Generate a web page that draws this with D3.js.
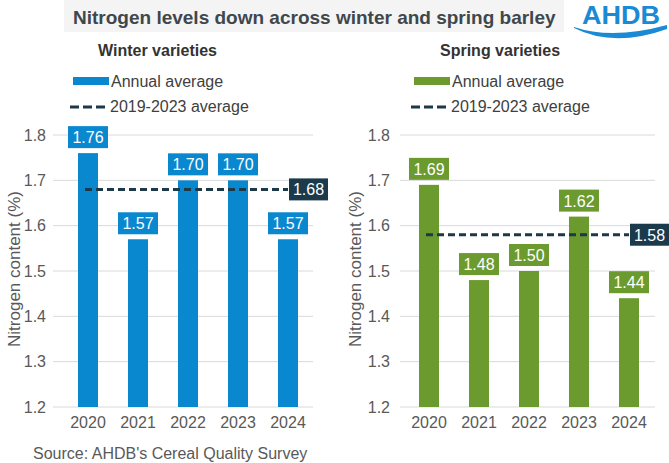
<!DOCTYPE html>
<html>
<head>
<meta charset="utf-8">
<script src="https://cdn.jsdelivr.net/npm/d3@7"></script>
<style>
  body { margin: 0; background: #fff; }
  svg { display: block; font-family: "Liberation Sans", Arial, sans-serif; }
</style>
</head>
<body>
<div id="chart"></div>
<script>
// data
var years = ["2020", "2021", "2022", "2023", "2024"];
var winterValues = [1.76, 1.57, 1.70, 1.70, 1.57];
var springValues = [1.69, 1.48, 1.50, 1.62, 1.44];
var winterAvg = 1.68;
var springAvg = 1.58;
var yTicks = [1.2, 1.3, 1.4, 1.5, 1.6, 1.7, 1.8];

var W = 669, H = 463;
var svg = d3.select("#chart").append("svg")
    .attr("width", W)
    .attr("height", H);

// title band
svg.append("rect").attr("x", 64).attr("y", 0).attr("width", 500).attr("height", 32).attr("fill", "#f4f4f4");
svg.append("text")
    .attr("x", 73).attr("y", 24)
    .attr("font-size", 19).attr("font-weight", "bold").attr("fill", "#3f474c")
    .text("Nitrogen levels down across winter and spring barley");

// logo
svg.append("text")
    .attr("x", 582).attr("y", 24)
    .attr("font-size", 25).attr("font-weight", "bold").attr("fill", "#1a8ad4")
    .attr("textLength", 78).attr("lengthAdjust", "spacingAndGlyphs")
    .text("AHDB");
svg.append("path")
    .attr("d", "M574,27 Q612,40 667,25 L667,29 Q614,48 574,28 Z")
    .attr("fill", "#1a8ad4");

var y = d3.scaleLinear().domain([1.2, 1.8]).range([407, 135]);

function panel(cfg) {
  var g = svg.append("g");
  var x = d3.scaleBand().domain(years).range([cfg.x0, cfg.x1]).paddingInner(0.6).paddingOuter(0.3);

  // subtitle + legend
  g.append("text").attr("x", cfg.subX).attr("y", 56)
      .attr("font-size", 16).attr("font-weight", "bold").attr("fill", "#333")
      .text(cfg.subtitle);
  g.append("rect").attr("x", cfg.legX).attr("y", 77).attr("width", 36).attr("height", 8).attr("fill", cfg.color);
  g.append("text").attr("x", cfg.legX + 38).attr("y", 87)
      .attr("font-size", 16).attr("fill", "#404040").text("Annual average");
  g.append("line").attr("x1", cfg.legX - 3).attr("x2", cfg.legX + 33).attr("y1", 107).attr("y2", 107)
      .attr("stroke", "#1d3947").attr("stroke-width", 3).attr("stroke-dasharray", "9,4");
  g.append("text").attr("x", cfg.legX + 37).attr("y", 112)
      .attr("font-size", 16).attr("fill", "#404040").text("2019-2023 average");

  // grid
  g.selectAll(".grid").data(yTicks).enter().append("line")
      .attr("x1", cfg.gx0).attr("x2", cfg.gx1)
      .attr("y1", function(d) { return y(d); }).attr("y2", function(d) { return y(d); })
      .attr("stroke", "#d9d9d9").attr("stroke-width", 1);

  var yAxis = g.append("g")
      .attr("transform", "translate(" + cfg.tickX + ",0)")
      .call(d3.axisLeft(y).tickValues(yTicks).tickFormat(d3.format(".1f")).tickSize(0).tickPadding(0));
  yAxis.select(".domain").remove();
  yAxis.selectAll("text").attr("font-size", 16).attr("fill", "#595959").attr("font-family", "Liberation Sans, Arial, sans-serif");

  var xAxis = g.append("g")
      .attr("transform", "translate(0,407)")
      .call(d3.axisBottom(x).tickSize(0).tickPadding(10));
  xAxis.select(".domain").remove();
  xAxis.selectAll("text").attr("font-size", 16).attr("fill", "#595959").attr("font-family", "Liberation Sans, Arial, sans-serif");

  g.append("text")
      .attr("transform", "translate(" + cfg.labelX + "," + (y(1.5) - 2) + ") rotate(-90)")
      .attr("text-anchor", "middle").attr("font-size", 17).attr("fill", "#595959")
      .text("Nitrogen content (%)");

  // bars
  var bars = g.selectAll(".bar").data(cfg.values).enter().append("g");
  bars.append("rect")
      .attr("x", function(d, i) { return x(years[i]); })
      .attr("width", x.bandwidth())
      .attr("y", function(d) { return y(d); })
      .attr("height", function(d) { return y(1.2) - y(d); })
      .attr("fill", cfg.color);
  bars.append("rect")
      .attr("x", function(d, i) { return x(years[i]) + x.bandwidth() / 2 - 20; })
      .attr("y", function(d) { return y(d) - 27; })
      .attr("width", 40).attr("height", 22)
      .attr("fill", cfg.color);
  bars.append("text")
      .attr("x", function(d, i) { return x(years[i]) + x.bandwidth() / 2; })
      .attr("y", function(d) { return y(d) - 10; })
      .attr("text-anchor", "middle").attr("font-size", 16).attr("fill", "#fff")
      .text(function(d) { return d.toFixed(2); });

  // average line
  var ax0 = x(years[0]) + x.bandwidth() / 2 - 3;
  var ax1 = x(years[4]) + x.bandwidth() / 2;
  g.append("line")
      .attr("x1", ax0).attr("x2", ax1)
      .attr("y1", y(cfg.avg)).attr("y2", y(cfg.avg))
      .attr("stroke", "#1d3947").attr("stroke-width", 3).attr("stroke-dasharray", "7,4");
  g.append("rect")
      .attr("x", ax1 + 1).attr("y", y(cfg.avg) - 11)
      .attr("width", 39).attr("height", 22).attr("fill", "#1b3a4b");
  g.append("text")
      .attr("x", ax1 + 20.5).attr("y", y(cfg.avg) + 6)
      .attr("text-anchor", "middle").attr("font-size", 16).attr("fill", "#fff")
      .text(cfg.avg.toFixed(2));
}

panel({
  values: winterValues, avg: winterAvg, color: "#0a88cf",
  x0: 63, x1: 313, gx0: 53, gx1: 313, tickX: 46, labelX: 20,
  subtitle: "Winter varieties", subX: 98, legX: 73
});
panel({
  values: springValues, avg: springAvg, color: "#6b9b2e",
  x0: 404, x1: 654, gx0: 400, gx1: 655, tickX: 390, labelX: 361,
  subtitle: "Spring varieties", subX: 440, legX: 414
});

svg.append("text")
    .attr("x", 33).attr("y", 459)
    .attr("font-size", 16).attr("fill", "#595959")
    .text("Source: AHDB's Cereal Quality Survey");
</script>
</body>
</html>
